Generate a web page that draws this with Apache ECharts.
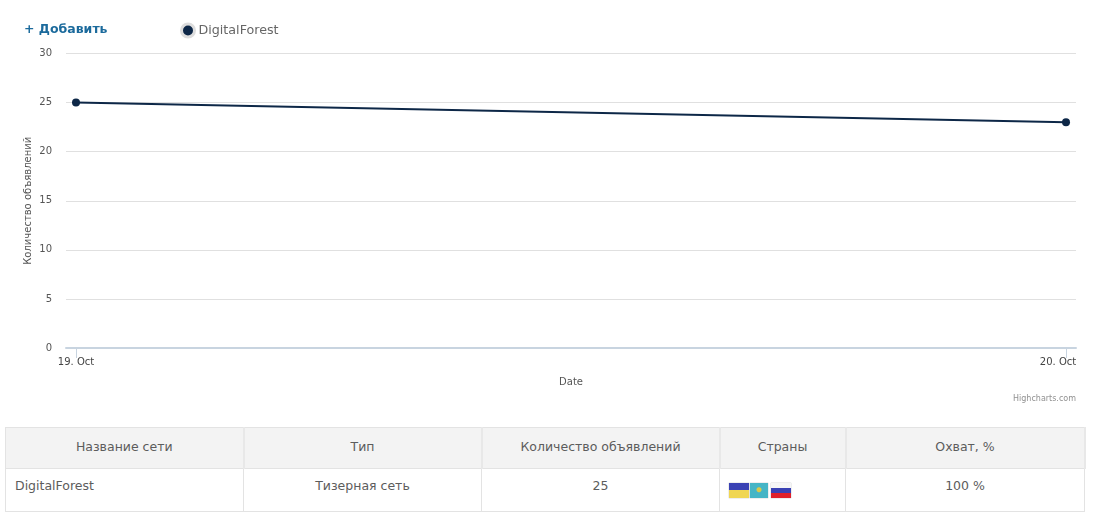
<!DOCTYPE html>
<html>
<head>
    <meta charset="utf-8">
    <title>DigitalForest</title>
    <script src="https://cdn.jsdelivr.net/npm/echarts@6/dist/echarts.min.js"></script>
    <style>
        html, body { margin: 0; padding: 0; background: #fff; font-family: "DejaVu Sans", sans-serif; overflow: hidden; }
        #page { position: relative; width: 1093px; height: 525px; }
        #echarts { position: absolute; left: 0; top: 0; width: 1093px; height: 415px; }
        #add { position: absolute; left: 24px; top: 20px; font-size: 12.5px; font-weight: bold; color: #1b6a9c; line-height: 18px; }
        table { position: absolute; left: 5px; top: 427px; width: 1079px; height: 85px; border-collapse: collapse; table-layout: fixed; color: #5c5c5c; font-size: 12.5px; }
        th, td { border: 1px solid #e3e3e3; padding: 0; text-align: center; font-weight: normal; }
        th { height: 37px; padding-bottom: 3px; background: #f3f3f3; border-right: 2px solid #e8e8e8; }
        td { vertical-align: top; padding-top: 8px; line-height: 17px; }
        td.name { text-align: left; padding-left: 9px; }
        td.flags { text-align: left; padding-left: 9px; white-space: nowrap; font-size: 0; }
        .flag { display: inline-block; width: 20px; height: 15px; margin-top: 6px; vertical-align: top; box-shadow: 0 0 1px #999; }
        .ua { background: linear-gradient(#3a42b4 50%, #f0d653 50%); }
        .kz { background: radial-gradient(circle at 50% 45%, #d9c94a 2px, #45b5c6 3px); margin-left: 1px; width: 18px; }
        .ru { background: linear-gradient(#f6f6f6 33%, #3a42b4 33%, #3a42b4 66%, #e0202a 66%); margin-left: 3px; }
    </style>
</head>
<body>
<div id="page">
    <div id="echarts"></div>
    <div id="add">+ Добавить</div>
    <table>
        <colgroup>
            <col style="width:238px"><col style="width:238px"><col style="width:238px"><col style="width:126px"><col style="width:239px">
        </colgroup>
        <thead>
            <tr id="head"></tr>
        </thead>
        <tbody>
            <tr>
                <td class="name" id="rowName"></td>
                <td id="rowType"></td>
                <td id="rowCount"></td>
                <td class="flags"><span class="flag ua"></span><span class="flag kz"></span><span class="flag ru"></span></td>
                <td id="rowReach"></td>
            </tr>
        </tbody>
    </table>
</div>
<script>
    var seriesName = 'DigitalForest';
    var dates = ['19. Oct', '20. Oct'];
    var adCounts = [25, 23];
    var tableHead = ['Название сети', 'Тип', 'Количество объявлений', 'Страны', 'Охват, %'];
    var rowType = 'Тизерная сеть';
    var rowCount = '25';
    var rowReach = '100 %';

    // таблица под графиком
    document.getElementById('head').innerHTML = tableHead.map(function (t) { return '<th>' + t + '</th>'; }).join('');
    document.getElementById('rowName').textContent = seriesName;
    document.getElementById('rowType').textContent = rowType;
    document.getElementById('rowCount').textContent = rowCount;
    document.getElementById('rowReach').textContent = rowReach;

    var font = '"DejaVu Sans", sans-serif';
    var myChart = echarts.init(document.getElementById('echarts'), null, { renderer: 'canvas' });
    var option = {
        animation: false,
        grid: { left: 66, right: 17, top: 53.5, height: 294.5 },
        legend: {
            left: 175, top: 17.5,
            itemWidth: 13, itemHeight: 13, itemGap: 0,
            icon: 'circle',
            textStyle: { color: '#666666', fontSize: 12.7, fontFamily: font, padding: [0, 0, 0, -1] },
            itemStyle: { color: '#0d2747', borderColor: '#dddddd', borderWidth: 3 },
            data: [seriesName]
        },
        xAxis: {
            type: 'value',
            min: -0.0101,
            max: 1.0101,
            name: 'Date',
            nameLocation: 'middle',
            nameGap: 29,
            nameMoveOverlap: false,
            nameTextStyle: { color: '#555555', fontSize: 10, fontFamily: font },
            splitLine: { show: false },
            axisLine: { show: true, lineStyle: { color: '#c8d4e0', width: 2 } },
            axisTick: { show: true, length: 10, customValues: [0, 1], lineStyle: { color: '#c8d4e0' } },
            axisLabel: {
                customValues: [0, 1],
                margin: 9,
                color: '#444444',
                fontSize: 10,
                fontFamily: font,
                formatter: function (v) {
                    return v === 1 ? '{last|' + dates[1] + '}' : dates[0];
                },
                rich: { last: { color: '#444444', fontSize: 10, fontFamily: font, padding: [0, 16, 0, 0] } }
            }
        },
        yAxis: {
            type: 'value',
            min: 0,
            max: 30,
            interval: 5,
            name: 'Количество объявлений',
            nameLocation: 'middle',
            nameGap: 33,
            nameMoveOverlap: false,
            nameTextStyle: { color: '#555555', fontSize: 10, fontFamily: font },
            axisLine: { show: false },
            axisTick: { show: false },
            axisLabel: { margin: 14, padding: [1, 0, 0, 0], color: '#555555', fontSize: 10, fontFamily: font },
            splitLine: { lineStyle: { color: '#e0e0e0', width: 1 } }
        },
        series: [{
            name: seriesName,
            type: 'line',
            data: adCounts.map(function (v, i) { return [i, v]; }),
            symbol: 'circle',
            symbolSize: 8,
            lineStyle: { color: '#0d2747', width: 2 },
            itemStyle: { color: '#0d2747' }
        }],
        graphic: [{
            type: 'text',
            right: 17,
            top: 395,
            style: { text: 'Highcharts.com', fill: '#909090', fontSize: 8, fontFamily: font }
        }]
    };
    myChart.setOption(option);
</script>
</body>
</html>
